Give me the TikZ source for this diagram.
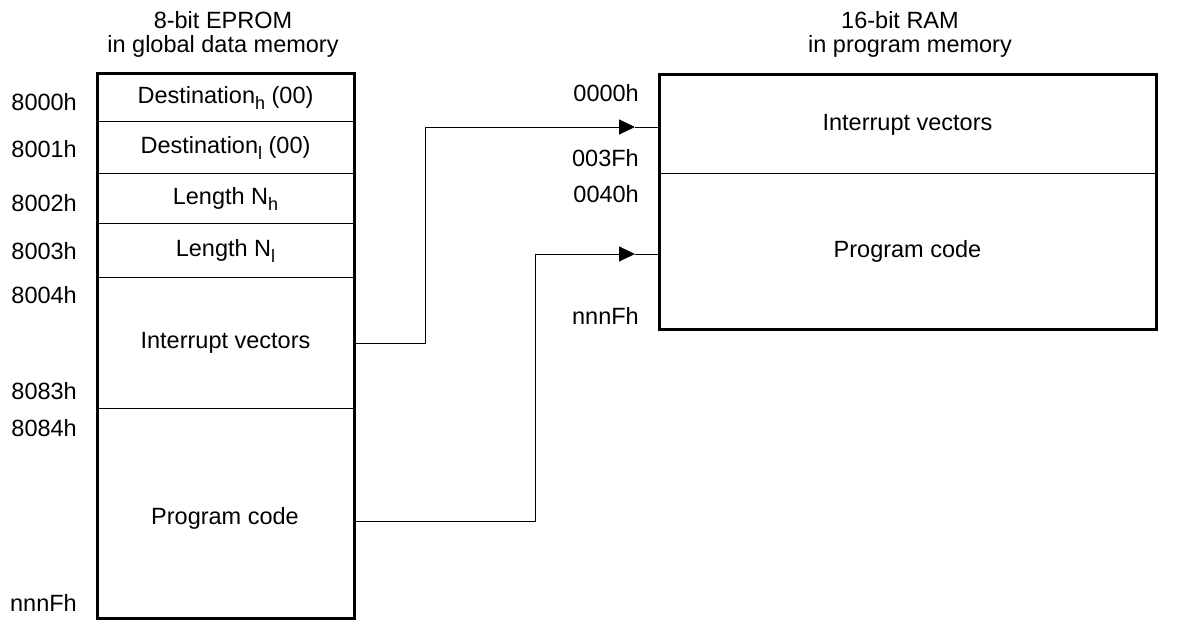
\documentclass[tikz,border=0pt]{standalone}
\usepackage{fontspec}
\setmainfont{Liberation Sans}
\usetikzlibrary{arrows.meta,calc}
\newcommand{\mysub}[1]{\raisebox{-6pt}{\fontsize{18}{18}\selectfont #1}}
\begin{document}
\begin{tikzpicture}[x=1pt,y=-1pt,
  font=\fontsize{23.5}{28}\selectfont,
  cell/.style={draw, line width=1pt, minimum width=256pt, inner sep=0pt, anchor=north west},
  rcell/.style={draw, line width=1pt, minimum width=496pt, inner sep=0pt, anchor=north west},
  addr/.style={anchor=east, inner sep=0pt},
  title/.style={inner sep=0pt},
  outer/.style={line width=3pt, line join=miter},
  conn/.style={line width=1pt},
  tip/.style={-{Triangle[length=16pt,width=15pt]}}]
\useasboundingbox (0,0) rectangle (1178,626);

% titles
\node[title] (tl1) at (223,20) {8-bit EPROM};
\node[title] (tl2) at (223,46) {in global data memory};
\node[title] (tr1) at (900,20) {16-bit RAM};
\node[title] (tr2) at (910,46) {in program memory};

% left memory
\node[cell, minimum height=47pt] (d1) at (97,74) {Destination\mysub{h} (00)};
\node[cell, minimum height=52pt] (d2) at (97,121) {Destination\mysub{l} (00)};
\node[cell, minimum height=50pt] (n1) at (97,173) {Length N\mysub{h}};
\node[cell, minimum height=54pt] (n2) at (97,223) {Length N\mysub{l}};
\node[cell, minimum height=131pt] (iv) at (97,277) {Interrupt vectors};
\node[cell, minimum height=209pt] (pc) at (97,408) {};
\node (pct) at (225,518) {Program code};
\draw[outer] (d1.north west) rectangle (pc.south east);

% left addresses
\node[addr] (a0) at (77,102) {8000h};
\node[addr] (a1) at (77,149) {8001h};
\node[addr] (a2) at (77,203) {8002h};
\node[addr] (a3) at (77,251) {8003h};
\node[addr] (a4) at (77,295) {8004h};
\node[addr] (a5) at (77,391) {8083h};
\node[addr] (a6) at (77,428) {8084h};
\node[addr] (a7) at (77,603) {nnnFh};

% right memory
\node[rcell, minimum height=98pt] (riv) at (659,75) {Interrupt vectors};
\node[rcell, minimum height=155pt] (rpc) at (659,173) {Program code};
\draw[outer] (riv.north west) rectangle (rpc.south east);

% right addresses
\node[addr] (b0) at (639,93) {0000h};
\node[addr] (b1) at (639,158) {003Fh};
\node[addr] (b2) at (639,194) {0040h};
\node[addr] (b3) at (639,316) {nnnFh};

% connectors
\coordinate (t1) at (635,127);
\coordinate (t2) at (635,254);
\coordinate (s2) at ($(pc.east)+(0,8.5)$);
\draw[conn,tip] (iv.east) -| (425,127) -- (t1);
\draw[conn] (t1) -- (riv.west |- t1);
\draw[conn,tip] (s2) -| (535,254) -- (t2);
\draw[conn] (t2) -- (rpc.west |- t2);
\end{tikzpicture}
\end{document}
